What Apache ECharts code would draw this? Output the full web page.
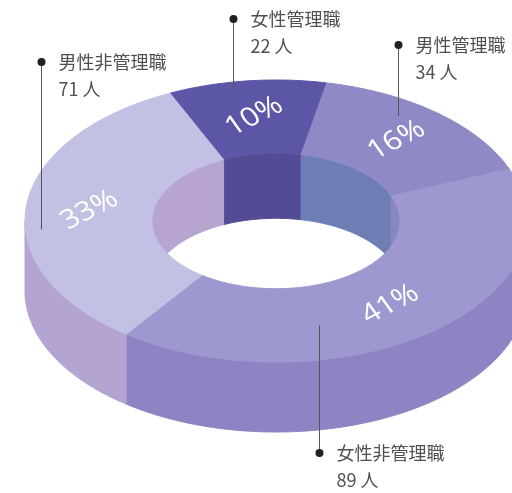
<!DOCTYPE html>
<html>
<head>
<meta charset="utf-8">
<script src="https://cdn.jsdelivr.net/npm/echarts@6/dist/echarts.min.js"></script>
<style>
  html, body { margin: 0; background: #fff; }
  #chart { width: 512px; height: 493px; }
</style>
</head>
<body>
<div id="chart"></div>
<script>
// data
var categories = ['女性管理職', '男性管理職', '女性非管理職', '男性非管理職'];
var counts = [22, 34, 89, 71];
var unit = '人';

// colours per slice: top face, outer wall, inner wall
var topColors = ['#5b56a6', '#8f8ac6', '#9d99d0', '#c3c1e3'];
var sideColors = ['#4f4990', '#7f78b8', '#8f84c3', '#b4a4d1'];
var innerColors = ['#534c94', '#6f7db5', '#8a86c0', '#b7a4cf'];

// where each leader line touches its slice (fraction of slice angle, fraction of radius) and the dot's y
var callouts = [
    {frac: 0.40, r: 0.95, dotY: 19},
    {frac: 0.38, r: 0.89, dotY: 45},
    {frac: 0.665, r: 0.76, dotY: 453},
    {frac: 0.42, r: 0.94, dotY: 62}
];

// projected ring geometry
var cx = 276, cy = 221, rx = 251, ry = 141;
var holeX = 0.494, holeY = 0.48;
var depth = 70, innerDepth = 65;
var startDeg = -25;

var total = counts.reduce(function (a, b) { return a + b; }, 0);
var spans = [];
var acc = startDeg;
counts.forEach(function (v) {
    var d = v / total * 360;
    spans.push([acc, acc + d]);
    acc += d;
});

function pt(deg, r, dy, inner) {
    var a = deg * Math.PI / 180;
    var kx = inner ? r * holeX : r;
    var ky = inner ? r * holeY : r;
    return [cx + kx * rx * Math.sin(a), cy - ky * ry * Math.cos(a) + (dy || 0)];
}

function arc(d1, d2, r, dy, inner) {
    var n = Math.max(2, Math.ceil(Math.abs(d2 - d1)));
    var out = [];
    for (var i = 0; i <= n; i++) {
        out.push(pt(d1 + (d2 - d1) * i / n, r, dy, inner));
    }
    return out;
}

function overlap(s, ranges) {
    var res = [];
    ranges.forEach(function (g) {
        var a = Math.max(s[0], g[0]), b = Math.min(s[1], g[1]);
        if (b > a) res.push([a, b]);
    });
    return res;
}

function band(a, b, r, dy, inner) {
    var top = arc(a, b, r, 0, inner);
    var bottom = arc(b, a, r, dy, inner);
    return top.concat(bottom);
}

function renderWalls(params, api) {
    var i = params.dataIndex;
    var s = spans[i];
    var children = [];
    overlap(s, [[90, 270]]).forEach(function (g) {
        children.push({
            type: 'polygon',
            shape: {points: band(g[0], g[1], 1, depth, false)},
            style: {fill: sideColors[i], stroke: sideColors[i], lineWidth: 1}
        });
    });
    overlap(s, [[-90, 90], [270, 450]]).forEach(function (g) {
        children.push({
            type: 'polygon',
            shape: {points: band(g[0], g[1], 1, innerDepth, true)},
            style: {fill: innerColors[i], stroke: innerColors[i], lineWidth: 1}
        });
    });
    return {type: 'group', children: children};
}

function renderTops(params, api) {
    var i = params.dataIndex;
    var s = spans[i];
    var pts = arc(s[0], s[1], 1, 0, false).concat(arc(s[1], s[0], 1, 0, true));
    return {
        type: 'polygon',
        shape: {points: pts},
        style: {fill: topColors[i], stroke: topColors[i], lineWidth: 1}
    };
}

function renderLabels(params, api) {
    var i = params.dataIndex;
    var s = spans[i];
    var mid = (s[0] + s[1]) / 2;
    var rm = (1 + holeX) / 2;
    var lp = pt(mid, rm, 0, false);
    var pct = Math.round(counts[i] / total * 100) + '%';

    var c = callouts[i];
    var ap = pt(s[0] + c.frac * (s[1] - s[0]), c.r, 0, false);
    var x = Math.round(ap[0]) + 0.5;

    return {
        type: 'group',
        children: [
            {
                type: 'group',
                x: lp[0], y: lp[1],
                scaleY: 0.85,
                children: [{
                    type: 'text',
                    rotation: 31 * Math.PI / 180,
                    style: {
                        text: pct, fill: '#ffffff',
                        font: '31px "Open Sans", sans-serif',
                        align: 'center', verticalAlign: 'middle'
                    }
                }]
            },
            {
                type: 'line',
                shape: {x1: x, y1: ap[1], x2: x, y2: c.dotY},
                style: {stroke: '#555', lineWidth: 1}
            },
            {
                type: 'circle',
                shape: {cx: x, cy: c.dotY, r: 4},
                style: {fill: '#222'}
            },
            {
                type: 'text',
                x: x + 17, y: c.dotY,
                style: {
                    text: categories[i], fill: '#505050',
                    font: '18px "Noto Sans CJK JP", sans-serif',
                    align: 'left', verticalAlign: 'middle'
                }
            },
            {
                type: 'text',
                x: x + 17, y: c.dotY + 27,
                style: {
                    text: counts[i] + ' ' + unit, fill: '#505050',
                    font: '18px "Noto Sans CJK JP", sans-serif',
                    align: 'left', verticalAlign: 'middle'
                }
            }
        ]
    };
}

var chart = echarts.init(document.getElementById('chart'));
chart.setOption({
    backgroundColor: '#ffffff',
    animation: false,
    series: [
        {type: 'custom', coordinateSystem: 'none', renderItem: renderWalls, data: counts, silent: true},
        {type: 'custom', coordinateSystem: 'none', renderItem: renderTops, data: counts, silent: true},
        {type: 'custom', coordinateSystem: 'none', renderItem: renderLabels, data: counts, silent: true}
    ]
});
</script>
</body>
</html>
